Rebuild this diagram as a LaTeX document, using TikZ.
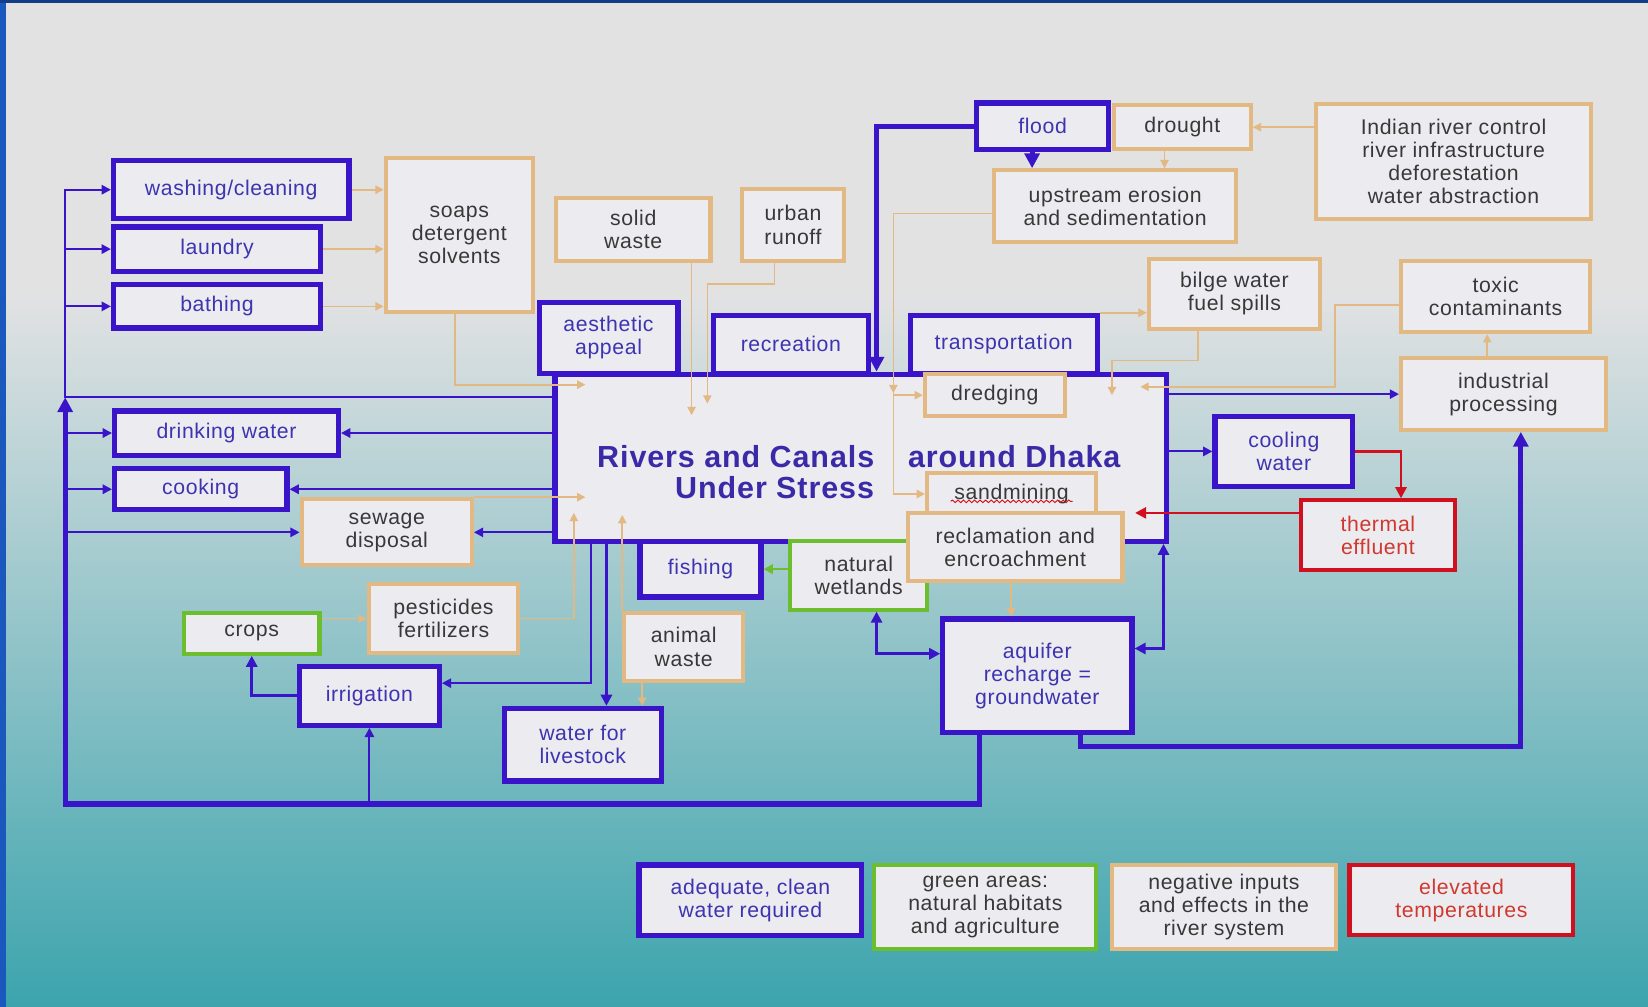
\documentclass[tikz,border=0pt]{standalone}
\usepackage{fontspec}
\setmainfont{Liberation Sans}[LetterSpace=3]
\usetikzlibrary{arrows.meta, calc, decorations.pathmorphing}
\definecolor{cblue}{HTML}{3A14C8}
\definecolor{ctan}{HTML}{E2B883}
\definecolor{cgreen}{HTML}{6DBE2E}
\definecolor{cred}{HTML}{D0101E}
\definecolor{cfill}{HTML}{ECEBEF}
\definecolor{ctxtblue}{HTML}{3C34B0}
\definecolor{ctxtred}{HTML}{D0392F}
\definecolor{ctxt}{HTML}{383838}
\definecolor{ctitle}{HTML}{3A2AA8}
\definecolor{bgtop}{HTML}{E2E2E3}
\definecolor{bgbot}{HTML}{3CA4AD}
\definecolor{cedge}{HTML}{1A58BE}
\tikzset{
  every picture/.style={x=0.2mm, y=-0.2mm},
  box/.style={draw=#1, fill=cfill, line width=2.2pt, align=center, inner sep=1pt, text=ctxt,
    font=\fontsize{11.5}{12.5}\selectfont},
  box/.default=ctan,
  wbox/.style={box=cblue, line width=2.8pt, text=ctxtblue},
  gbox/.style={box=cgreen},
  rbox/.style={box=cred, text=ctxtred},
  wh/.style 2 args={minimum width=#1*0.2mm, minimum height=#2*0.2mm},
  bthin/.style={draw=cblue, line width=1.1pt, -{Triangle[length=5pt, width=5pt]}},
  bmid/.style={draw=cblue, line width=1.8pt, -{Triangle[length=6pt, width=6pt]}},
  bthick/.style={draw=cblue, line width=2.8pt, -{Triangle[length=8pt, width=8pt]}},
  tarr/.style={draw=ctan, line width=0.9pt, -{Triangle[length=4.5pt, width=4.5pt]}},
  rarr/.style={draw=cred, line width=1.4pt, -{Triangle[length=6pt, width=6pt]}},
  garr/.style={draw=cgreen, line width=1.4pt, -{Triangle[length=5pt, width=5pt]}},
}

\begin{document}
\begin{tikzpicture}[
  title/.style={font=\fontsize{16.5}{20}\selectfont\bfseries, text=ctitle}]
  % slide background
  \fill[bgtop] (0,0) rectangle (1568,280);
  \shade[top color=bgtop, bottom color=bgbot] (0,280) rectangle (1568,958);
  \fill[cedge] (0,0) rectangle (6,958);
  \fill[cedge!70!black] (0,0) rectangle (1568,3);
  \useasboundingbox (0,0) rectangle (1568,958);

  % the river
  \node[wbox, wh={582}{159}] (main) at (819,435.5) {};
  \node[title] (t1) at (700,434) {Rivers and Canals};
  \node[title] (t2) at (965,434) {around Dhaka};
  \node[title] (t3) at (737,464) {Under Stress};

  % uses
  \node[wbox, wh={224}{55}] (wash) at (220,180.5) {washing/cleaning};
  \node[wbox, wh={197}{42}] (laundry) at (206.5,237) {laundry};
  \node[wbox, wh={197}{41}] (bathing) at (206.5,291.5) {bathing};
  \node[wbox, wh={213}{42}] (drink) at (215.5,412) {drinking water};
  \node[wbox, wh={164}{39}] (cook) at (191,465.5) {cooking};
  \node[wbox, wh={133}{56}] (irrig) at (351.5,662) {irrigation};
  \node[wbox, wh={149}{69}] (livestock) at (554.5,708.5) {water for\\livestock};
  \node[wbox, wh={132}{67}] (aesth) at (579,321.5) {aesthetic\\appeal};
  \node[wbox, wh={147}{55}] (recre) at (752.5,327.5) {recreation};
  \node[wbox, wh={178}{55}] (transp) at (955,327.5) {transportation};
  \node[wbox, wh={126}{44}] (flood) at (992,120) {flood};
  \node[wbox, wh={131}{67}] (cooling) at (1221.5,429.5) {cooling\\water};
  \node[wbox, wh={115}{53}] (fishing) at (666.5,541.5) {fishing};
  \node[wbox, wh={180}{108}] (aquifer) at (987,643) {aquifer\\recharge =\\groundwater};

  % green areas
  \node[gbox, wh={129}{39}] (crops) at (239.5,602.5) {crops};
  \node[gbox, wh={130}{65}] (wetland) at (817,547.5) {natural\\wetlands};

  % negative inputs
  \node[box, wh={140}{147}] (soaps) at (437,223.5) {soaps\\detergent\\solvents};
  \node[box, wh={147}{60}] (solid) at (602.5,218) {solid\\waste};
  \node[box, wh={97}{68}] (urban) at (754.5,214) {urban\\runoff};
  \node[box, wh={130}{42}] (drought) at (1125,121) {drought};
  \node[box, wh={230}{68}] (upstream) at (1061,196) {upstream erosion\\and sedimentation};
  \node[box, wh={262}{109}] (indian) at (1383,153.5) {Indian river control\\river infrastructure\\deforestation\\water abstraction};
  \node[box, wh={163}{67}] (bilge) at (1174.5,279.5) {bilge water\\fuel spills};
  \node[box, wh={180}{68}] (toxic) at (1423,282) {toxic\\contaminants};
  \node[box, wh={195}{68}] (industry) at (1430.5,375) {industrial\\processing};
  \node[box, wh={133}{40}] (dredge) at (946.5,376) {dredging};
  \node[box, wh={161}{40}] (sand) at (962.5,470) {sandmining};
  \node[box, wh={204}{65}] (reclaim) at (966,520.5) {reclamation and\\encroachment};
  \node[box, wh={162}{63}] (sewage) at (368,506.5) {sewage\\disposal};
  \node[box, wh={142}{65}] (pest) at (422,588.5) {pesticides\\fertilizers};
  \node[box, wh={113}{65}] (animal) at (650.5,615.5) {animal\\waste};
  \node[rbox, wh={146}{66}] (thermal) at (1311,509) {thermal\\effluent};
  \draw[cred, line width=0.5pt, decorate, decoration={snake, amplitude=0.7pt, segment length=3pt}]
    ($(sand.center)+(-58,7)$) -- ($(sand.center)+(58,7)$);

  % legend
  \node[wbox, wh={212}{67}] (leg1) at (714,856.5) {adequate, clean\\water required};
  \node[gbox, wh={211}{80}] (leg2) at (937.5,863) {green areas:\\natural habitats\\and agriculture};
  \node[box, wh={213}{80}] (leg3) at (1164.5,863) {negative inputs\\and effects in the\\river system};
  \node[rbox, wh={213}{67}] (leg4) at (1390.5,856.5) {elevated\\temperatures};

  % clean water paths
  \coordinate (spT) at (62,180);
  \coordinate (spM) at (62,378);
  \coordinate (spB) at (62,765);
  \coordinate (loopR) at (932,765);
  \coordinate (mi) at (562,650);
  \coordinate (ml) at (577,600);
  \coordinate (fl) at (834,120);
  \coordinate (aqi) at (1447,710);
  \draw[bthick] (aquifer.south -| loopR) -- (loopR) -- (spB) -- (spM);
  \draw[bthin, -] (main.west |- spM) -- (spM) -- (spT);
  \foreach \n in {wash, laundry, bathing, drink, cook, sewage}
    \draw[bthin] (spT |- \n.west) -- (\n.west);
  \foreach \n in {drink, cook, sewage}
    \draw[bthin] (main.west |- \n.east) -- (\n.east);
  \draw[bthin] (irrig.south |- loopR) -- (irrig.south);
  \draw[bmid] (irrig.west) -| (crops.south);
  \draw[bthin] (main.south -| mi) -- (mi) -- (irrig.east |- mi);
  \draw[bmid] (main.south -| ml) -- (livestock.north -| ml);
  \draw[bthick] (flood.west) -- (fl) -- (main.north -| fl);
  \draw[bthick] (flood.south -| 982,0) -- (upstream.north -| 982,0);
  \draw[bthin] (main.east |- industry.west) -- (industry.west);
  \draw[bthin] (main.east |- cooling.west) -- (cooling.west);
  \draw[bmid, >={Triangle[length=6pt, width=6pt]}, <->] (main.south -| 1107,0) |- (aquifer.east |- 0,617);
  \draw[bmid, >={Triangle[length=6pt, width=6pt]}, <->] (wetland.south -| 834,0) |- (aquifer.west |- 0,622);
  \draw[bthick] (aquifer.south -| 1028,0) |- (aqi) -- (industry.south -| aqi);
  \draw[garr] (wetland.west |- fishing.east) -- (fishing.east);

  % heat
  \coordinate (redtip) at (1080,488);
  \draw[rarr] (cooling.east) -| (thermal.north -| 1333,0);
  \draw[rarr] (thermal.west |- redtip) -- (redtip);

  % negative inputs into the river
  \foreach \n in {wash, laundry, bathing}
    \draw[tarr] (\n.east) -- (soaps.west |- \n.east);
  \draw[tarr] (soaps.south -| 433,0) |- (557,366);
  \draw[tarr] (solid.south -| 658,0) -- (658,395);
  \draw[tarr] (urban.south -| 737,0) |- (673,270) -- (673,384);
  \draw[tarr] (upstream.west |- 0,203) -| (850,374);
  \draw[tarr] (850,374) |- (sand.west);
  \draw[tarr] (dredge.west -| 850,0) -- (dredge.west);
  \draw[tarr] (drought.south -| 1108,0) -- (upstream.north -| 1108,0);
  \draw[tarr] (indian.west |- drought.east) -- (drought.east);
  \draw[tarr] (transp.north east) -- (bilge.west |- transp.north east);
  \draw[tarr] (bilge.south -| 1140,0) |- (1058,343) -- (1058,376);
  \draw[tarr] (toxic.west |- 0,290) -| (1270,368) -- (1085,368);
  \draw[tarr] (industry.north -| 1415,0) -- (toxic.south -| 1415,0);
  \draw[tarr] (reclaim.south -| 962,0) -- (aquifer.north -| 962,0);
  \draw[tarr] (sewage.north east) -- (sewage.north east -| 557,0);
  \draw[tarr] (pest.east) -| (546,488);
  \draw[tarr] (crops.east |- pest.west) -- (pest.west);
  \draw[tarr] (animal.north west) -- (animal.north west |- 0,490);
  \draw[tarr] (animal.south -| 611,0) -- (livestock.north -| 611,0);
\end{tikzpicture}
\end{document}
